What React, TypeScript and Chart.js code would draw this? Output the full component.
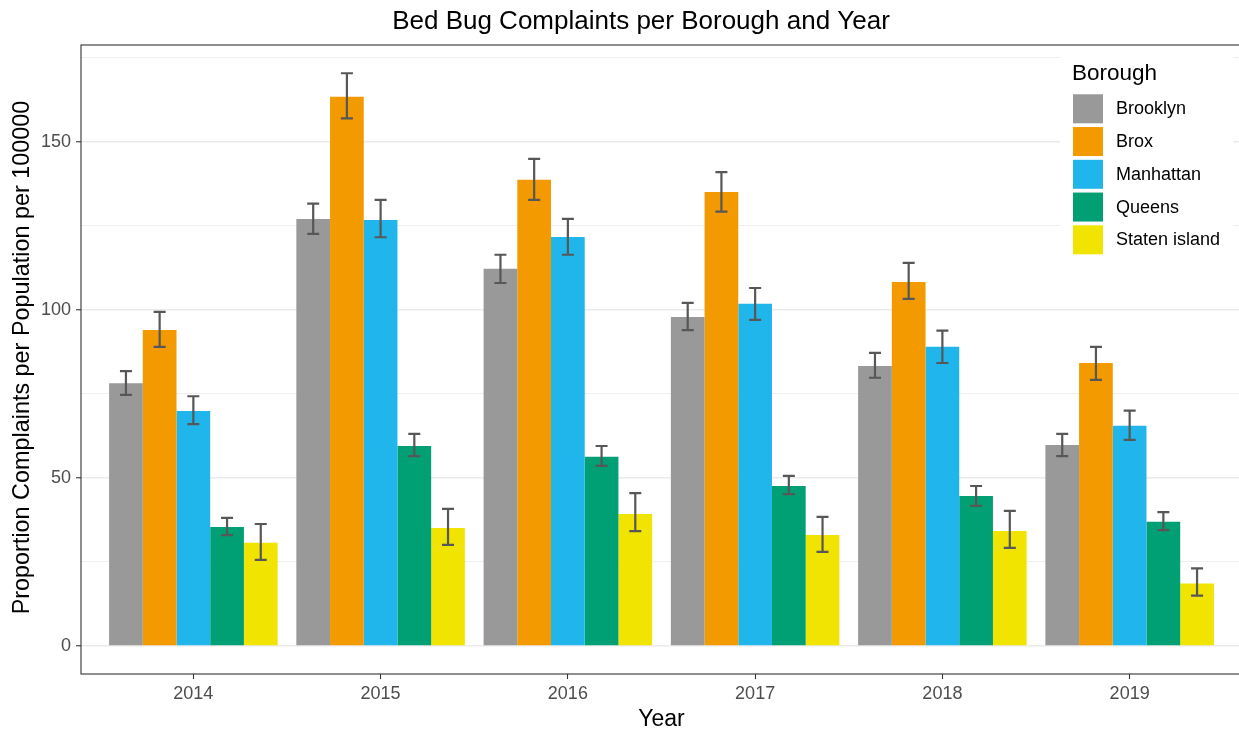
import React, { useEffect, useRef } from "react";
import { Chart, registerables } from "chart.js";

Chart.register(...registerables);

const years = ["2014", "2015", "2016", "2017", "2018", "2019"];
const boroughs = ["Brooklyn", "Brox", "Manhattan", "Queens", "Staten island"];
const colors = ["#999999", "#F29A00", "#20B6EC", "#00A074", "#F0E400"];

const brooklyn = [78.2, 127.0, 112.2, 97.9, 83.3, 59.8];
const brooklynLow = [74.7, 122.6, 108.0, 94.0, 79.8, 56.5];
const brooklynHigh = [81.8, 131.6, 116.4, 102.1, 87.2, 63.1];

const brox = [94.0, 163.4, 138.7, 135.1, 108.3, 84.2];
const broxLow = [89.0, 157.0, 132.7, 129.2, 103.3, 79.2];
const broxHigh = [99.4, 170.4, 144.9, 141.0, 114.0, 89.0];

const manhattan = [69.9, 126.7, 121.7, 101.8, 89.0, 65.5];
const manhattanLow = [66.0, 121.6, 116.4, 97.0, 84.2, 61.3];
const manhattanHigh = [74.3, 132.7, 127.1, 106.5, 93.8, 70.0];

const queens = [35.4, 59.5, 56.3, 47.6, 44.6, 37.0];
const queensLow = [33.0, 56.5, 53.6, 45.2, 41.7, 34.5];
const queensHigh = [38.1, 63.1, 59.5, 50.6, 47.6, 39.8];

const staten = [30.7, 35.1, 39.3, 33.0, 34.2, 18.6];
const statenLow = [25.6, 30.1, 34.2, 28.0, 29.2, 15.0];
const statenHigh = [36.3, 40.8, 45.5, 38.4, 40.2, 23.1];

const yTicks = [0, 25, 50, 75, 100, 125, 150, 175];

const values = [brooklyn, brox, manhattan, queens, staten];
const lows = [brooklynLow, broxLow, manhattanLow, queensLow, statenLow];
const highs = [brooklynHigh, broxHigh, manhattanHigh, queensHigh, statenHigh];

const FONT = "'Liberation Sans', Arial, Helvetica, sans-serif";

const overlayPlugin = {
  id: "overlay",
  afterDatasetsDraw(chart: any) {
    const ctx = chart.ctx;
    const ys = chart.scales.y;
    ctx.save();
    ctx.strokeStyle = "#575757";
    ctx.lineWidth = 2.2;
    values.forEach((_, i) => {
      const meta = chart.getDatasetMeta(i);
      meta.data.forEach((bar: any, j: number) => {
        const x = bar.x;
        const yl = ys.getPixelForValue(lows[i][j]);
        const yh = ys.getPixelForValue(highs[i][j]);
        const hw = 6;
        ctx.beginPath();
        ctx.moveTo(x, yl);
        ctx.lineTo(x, yh);
        ctx.moveTo(x - hw, yl);
        ctx.lineTo(x + hw, yl);
        ctx.moveTo(x - hw, yh);
        ctx.lineTo(x + hw, yh);
        ctx.stroke();
      });
    });
    ctx.restore();
  },
  afterDraw(chart: any) {
    const ctx = chart.ctx;
    const a = chart.chartArea;
    ctx.save();
    // panel border
    ctx.strokeStyle = "#333333";
    ctx.lineWidth = 1.1;
    ctx.strokeRect(a.left, a.top, a.right - a.left, a.bottom - a.top);

    // title
    ctx.fillStyle = "#000000";
    ctx.font = `26px ${FONT}`;
    ctx.textAlign = "center";
    ctx.textBaseline = "alphabetic";
    ctx.fillText("Bed Bug Complaints per Borough and Year", 641, 29);

    // x title
    ctx.font = `23px ${FONT}`;
    ctx.fillText("Year", (a.left + a.right) / 2, 726);

    // y title
    ctx.save();
    ctx.font = `23.4px ${FONT}`;
    ctx.translate(29, (a.top + a.bottom) / 2 - 2);
    ctx.rotate(-Math.PI / 2);
    ctx.fillText("Proportion Complaints per Population per 100000", 0, 0);
    ctx.restore();

    // legend
    ctx.fillStyle = "#ffffff";
    ctx.fillRect(1060, 47, 173, 215);
    ctx.fillStyle = "#000000";
    ctx.textAlign = "left";
    ctx.font = `22.5px ${FONT}`;
    ctx.fillText("Borough", 1072, 80);
    ctx.font = `18px ${FONT}`;
    ctx.textBaseline = "middle";
    boroughs.forEach((name, i) => {
      const y0 = 94.3 + i * 32.75;
      ctx.fillStyle = colors[i];
      ctx.fillRect(1073, y0, 30, 29);
      ctx.fillStyle = "#000000";
      ctx.fillText(name, 1116, y0 + 15);
    });
    ctx.restore();
  },
};

export default function App() {
  const ref = useRef<HTMLCanvasElement | null>(null);

  useEffect(() => {
    if (!ref.current) return;
    const chart = new Chart(ref.current, {
      type: "bar",
      data: {
        datasets: boroughs.map((name, i) => ({
          label: name,
          data: values[i].map((v, j) => ({ x: j + 1, y: v })),
          backgroundColor: colors[i],
          borderWidth: 0,
          categoryPercentage: 0.9,
          barPercentage: 1.0,
        })),
      },
      options: {
        animation: false,
        responsive: false,
        devicePixelRatio: 1,
        layout: { padding: { left: 0, top: 45, right: 18, bottom: 0 } },
        plugins: {
          legend: { display: false },
          title: { display: false },
          tooltip: { enabled: false },
        },
        scales: {
          x: {
            type: "linear",
            min: 0.4,
            max: 6.6,
            offset: false,
            afterBuildTicks: (scale: any) => {
              scale.ticks = years.map((_, j) => ({ value: j + 1 }));
            },
            afterFit: (scale: any) => {
              scale.height = 57;
            },
            ticks: {
              autoSkip: false,
              maxRotation: 0,
              padding: 4,
              color: "#4D4D4D",
              font: { family: FONT, size: 18 },
              callback: (v: any) => {
                const idx = Math.round(Number(v)) - 1;
                return years[idx] ?? "";
              },
            },
            grid: {
              display: true,
              offset: false,
              drawOnChartArea: false,
              drawTicks: true,
              tickLength: 5,
              tickColor: "#333333",
              tickWidth: 1.1,
            },
            border: { display: false },
          },
          y: {
            type: "linear",
            min: -8.33,
            max: 178.8,
            afterBuildTicks: (scale: any) => {
              scale.ticks = yTicks.map((v) => ({ value: v }));
            },
            afterFit: (scale: any) => {
              scale.width = 81;
            },
            ticks: {
              padding: 5,
              color: "#4D4D4D",
              font: { family: FONT, size: 18 },
              callback: (v: any) => (Number(v) % 50 === 0 ? String(v) : ""),
            },
            grid: {
              color: "#EBEBEB",
              lineWidth: (c: any) => (c.tick && c.tick.value % 50 === 0 ? 1.5 : 0.8),
              tickLength: 5,
              tickColor: (c: any) =>
                c.tick && c.tick.value % 50 === 0 ? "#333333" : "rgba(0,0,0,0)",
              tickWidth: 1.1,
            },
            border: { display: false },
          },
        },
      },
      plugins: [overlayPlugin],
    } as any);
    return () => chart.destroy();
  }, []);

  return (
    <div
      style={{
        position: "absolute",
        left: 0,
        top: 0,
        width: 1239,
        height: 731,
        overflow: "hidden",
        background: "#ffffff",
      }}
    >
      <canvas
        ref={ref}
        width={1260}
        height={731}
        style={{ width: 1260, height: 731, display: "block" }}
      />
    </div>
  );
}
